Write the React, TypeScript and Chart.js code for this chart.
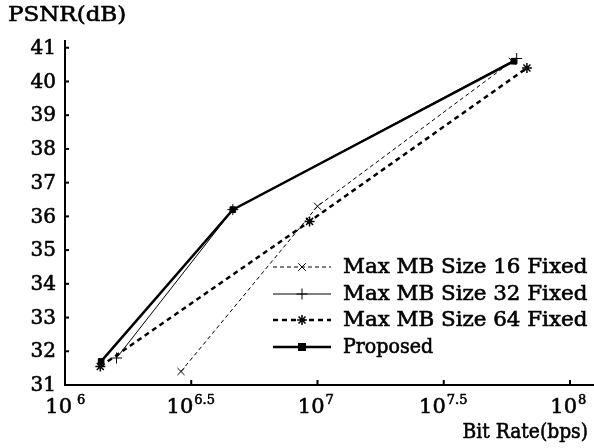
import React, { useEffect, useRef } from "react";
import { Chart, registerables } from "chart.js";
Chart.register(...registerables);

// Bit rate (bps) and PSNR (dB)
const bitRate16 = [2.88e6, 1.0e7, 5.9e7];
const psnr16 = [31.4, 36.3, 40.6];
const bitRate32 = [1.6e6, 4.62e6, 6.15e7];
const psnr32 = [31.8, 36.2, 40.68];
const bitRate64 = [1.38e6, 9.3e6, 6.75e7];
const psnr64 = [31.55, 35.85, 40.4];
const bitRateProposed = [1.39e6, 4.62e6, 6.0e7];
const psnrProposed = [31.7, 36.2, 40.6];

const seriesNames = [
  "Max MB Size 16 Fixed",
  "Max MB Size 32 Fixed",
  "Max MB Size 64 Fixed",
  "Proposed",
];
const xTickExponents = ["6", "6.5", "7", "7.5", "8"];
const yTicks = [31, 32, 33, 34, 35, 36, 37, 38, 39, 40, 41];
const yTitle = "PSNR(dB)";
const xTitle = "Bit Rate(bps)";

const FONT = '"DejaVu Serif", serif';

function pts(xs: number[], ys: number[]) {
  return xs.map((x, i) => ({ x, y: ys[i] }));
}

function drawText(
  ctx: CanvasRenderingContext2D,
  text: string,
  x: number,
  y: number,
  size: number,
  align: "left" | "right",
  stretch = 1,
  baseline: CanvasTextBaseline = "middle"
) {
  ctx.save();
  ctx.font = `${size}px ${FONT}`;
  ctx.textBaseline = baseline;
  ctx.textAlign = align;
  ctx.translate(x, y);
  ctx.scale(stretch, 1);
  ctx.lineWidth = 0.6;
  ctx.fillText(text, 0, 0);
  ctx.strokeText(text, 0, 0);
  ctx.restore();
}

export default function App() {
  const ref = useRef<HTMLCanvasElement>(null);
  useEffect(() => {
    const styles = [
      { dash: [4, 3], width: 1, point: "crossRot", r: 5, pw: 1 },
      { dash: [], width: 1, point: "cross", r: 5.5, pw: 1 },
      { dash: [5, 4], width: 2.5, point: "star", r: 5, pw: 1.5 },
      { dash: [], width: 2.5, point: "rect", r: 4, pw: 1 },
    ];
    const datas = [
      pts(bitRate16, psnr16),
      pts(bitRate32, psnr32),
      pts(bitRate64, psnr64),
      pts(bitRateProposed, psnrProposed),
    ];
    const overlay = {
      id: "overlay",
      afterDraw(chart: any) {
        const ctx = chart.ctx as CanvasRenderingContext2D;
        const xs = chart.scales.x;
        const ys = chart.scales.y;
        const area = chart.chartArea;
        ctx.save();
        ctx.fillStyle = "#000";
        ctx.strokeStyle = "#000";
        ctx.lineWidth = 2;
        ctx.setLineDash([]);
        // y ticks (inward) and labels
        yTicks.forEach((v) => {
          const py = ys.getPixelForValue(v);
          ctx.lineWidth = 2;
          ctx.beginPath();
          ctx.moveTo(area.left, py);
          ctx.lineTo(area.left + 4, py);
          ctx.stroke();
          drawText(ctx, String(v), area.left - 9, py + 1, 20, "right", 1);
        });
        // x ticks and labels
        xTickExponents.forEach((e) => {
          const val = Math.pow(10, parseFloat(e));
          const px = xs.getPixelForValue(val);
          ctx.lineWidth = 2;
          ctx.beginPath();
          ctx.moveTo(px, area.bottom);
          ctx.lineTo(px, area.bottom - 5);
          ctx.stroke();
          const frac = e.indexOf(".") >= 0;
          const right = px + (frac ? 2 : 7);
          drawText(ctx, "10", right, area.bottom + 28, 21, "right", 1, "alphabetic");
          drawText(ctx, e, right + (e === "6" ? 5 : 1), area.bottom + 19, 13, "left", 1, "alphabetic");
        });
        // axis titles
        drawText(ctx, yTitle, 8, 16, 20, "left", 1.15);
        drawText(ctx, xTitle, 588, 433, 21, "right", 0.89);
        // legend
        const rowY = [267, 294, 320, 347];
        seriesNames.forEach((name, i) => {
          const st = styles[i];
          const y = rowY[i];
          ctx.lineWidth = st.width;
          ctx.setLineDash(st.dash);
          ctx.beginPath();
          ctx.moveTo(273, y);
          ctx.lineTo(331, y);
          ctx.stroke();
          ctx.setLineDash([]);
          ctx.lineWidth = st.pw;
          const cx = 302;
          const r = st.r;
          if (st.point === "crossRot") {
            const d = r * 0.75;
            ctx.beginPath();
            ctx.moveTo(cx - d, y - d);
            ctx.lineTo(cx + d, y + d);
            ctx.moveTo(cx - d, y + d);
            ctx.lineTo(cx + d, y - d);
            ctx.stroke();
          } else if (st.point === "cross") {
            ctx.beginPath();
            ctx.moveTo(cx - r, y);
            ctx.lineTo(cx + r, y);
            ctx.moveTo(cx, y - r);
            ctx.lineTo(cx, y + r);
            ctx.stroke();
          } else if (st.point === "star") {
            ctx.beginPath();
            ctx.moveTo(cx - r, y);
            ctx.lineTo(cx + r, y);
            ctx.moveTo(cx, y - r);
            ctx.lineTo(cx, y + r);
            const d = r * 0.7;
            ctx.moveTo(cx - d, y - d);
            ctx.lineTo(cx + d, y + d);
            ctx.moveTo(cx - d, y + d);
            ctx.lineTo(cx + d, y - d);
            ctx.stroke();
          } else {
            ctx.fillRect(cx - 4, y - 4, 8, 8);
          }
          ctx.fillStyle = "#000";
          drawText(ctx, name, 343, y + 1, 20, "left", i === 3 ? 0.95 : 1.07);
        });
        ctx.restore();
      },
    };
    const chart = new Chart(ref.current!, {
      type: "line",
      data: {
        datasets: datas.map((d, i) => ({
          label: seriesNames[i],
          data: d,
          borderColor: "#000",
          backgroundColor: "#000",
          borderWidth: styles[i].width,
          borderDash: styles[i].dash,
          pointStyle: styles[i].point as any,
          pointRadius: styles[i].r,
          pointBorderWidth: styles[i].pw,
          pointBorderColor: "#000",
          pointBackgroundColor: "#000",
          tension: 0,
          fill: false,
          clip: false as any,
        })),
      },
      options: {
        responsive: false,
        animation: false,
        devicePixelRatio: 1,
        layout: { autoPadding: false, padding: { top: 41, right: 0, left: 0, bottom: 0 } },
        plugins: { legend: { display: false }, tooltip: { enabled: false } },
        scales: {
          x: {
            type: "logarithmic",
            min: 1e6,
            max: Math.pow(10, 8.095),
            ticks: { display: false },
            grid: { display: false, drawTicks: false },
            border: { display: true, color: "#000", width: 2 },
            afterFit: (s: any) => {
              s.height = 63;
            },
          },
          y: {
            type: "linear",
            min: 31,
            max: 41.2,
            ticks: { display: false },
            grid: { display: false, drawTicks: false },
            border: { display: true, color: "#000", width: 2 },
            afterFit: (s: any) => {
              s.width = 65;
            },
          },
        },
      },
      plugins: [overlay],
    });
    return () => chart.destroy();
  }, []);
  return (
    <div style={{ position: "fixed", left: 0, top: 0, width: 594, height: 448, background: "#fff" }}>
      <canvas ref={ref} width={594} height={448} />
    </div>
  );
}
